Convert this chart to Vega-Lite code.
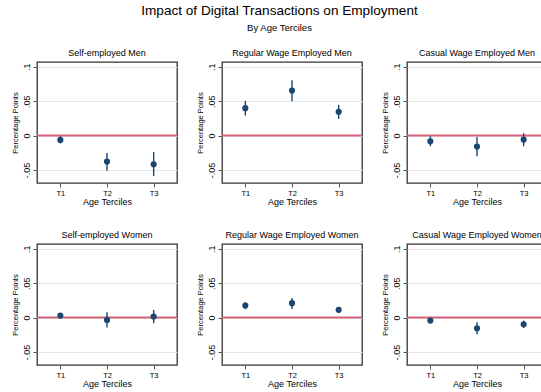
{
  "$schema": "https://vega.github.io/schema/vega-lite/v6.json",
  "background": "white",
  "padding": {"left": 10, "top": 4, "right": 0, "bottom": 0},
  "title": {
    "text": "Impact of Digital Transactions on Employment",
    "subtitle": "By Age Terciles",
    "font": "Liberation Sans",
    "subtitleFont": "Liberation Sans",
    "fontSize": 13.6,
    "fontWeight": "normal",
    "subtitleFontSize": 9.5,
    "subtitleColor": "#000",
    "color": "#000",
    "anchor": "middle",
    "subtitlePadding": 5,
    "offset": 16
  },
  "data": {
    "values": [
      {"panel": "Self-employed Men", "term": "T1", "est": -0.0063, "lo": -0.0115, "hi": -0.0010},
      {"panel": "Self-employed Men", "term": "T2", "est": -0.0379, "lo": -0.0510, "hi": -0.0252},
      {"panel": "Self-employed Men", "term": "T3", "est": -0.0417, "lo": -0.0590, "hi": -0.0240},
      {"panel": "Regular Wage Employed Men", "term": "T1", "est": 0.0398, "lo": 0.0290, "hi": 0.0505},
      {"panel": "Regular Wage Employed Men", "term": "T2", "est": 0.0655, "lo": 0.0500, "hi": 0.0806},
      {"panel": "Regular Wage Employed Men", "term": "T3", "est": 0.0345, "lo": 0.0243, "hi": 0.0447},
      {"panel": "Casual Wage Employed Men", "term": "T1", "est": -0.0083, "lo": -0.0155, "hi": -0.0010},
      {"panel": "Casual Wage Employed Men", "term": "T2", "est": -0.0160, "lo": -0.0300, "hi": -0.0020},
      {"panel": "Casual Wage Employed Men", "term": "T3", "est": -0.0058, "lo": -0.0155, "hi": 0.0034},
      {"panel": "Self-employed Women", "term": "T1", "est": 0.0029, "lo": -0.0005, "hi": 0.0063},
      {"panel": "Self-employed Women", "term": "T2", "est": -0.0034, "lo": -0.0146, "hi": 0.0078},
      {"panel": "Self-employed Women", "term": "T3", "est": 0.0015, "lo": -0.0083, "hi": 0.0110},
      {"panel": "Regular Wage Employed Women", "term": "T1", "est": 0.0175, "lo": 0.0121, "hi": 0.0223},
      {"panel": "Regular Wage Employed Women", "term": "T2", "est": 0.0209, "lo": 0.0126, "hi": 0.0286},
      {"panel": "Regular Wage Employed Women", "term": "T3", "est": 0.0112, "lo": 0.0073, "hi": 0.0150},
      {"panel": "Casual Wage Employed Women", "term": "T1", "est": -0.0044, "lo": -0.0078, "hi": -0.0010},
      {"panel": "Casual Wage Employed Women", "term": "T2", "est": -0.0155, "lo": -0.0243, "hi": -0.0068},
      {"panel": "Casual Wage Employed Women", "term": "T3", "est": -0.0097, "lo": -0.0150, "hi": -0.0044}
    ]
  },
  "facet": {
    "field": "panel",
    "type": "nominal",
    "sort": [
      "Self-employed Men", "Regular Wage Employed Men", "Casual Wage Employed Men",
      "Self-employed Women", "Regular Wage Employed Women", "Casual Wage Employed Women"
    ],
    "header": {
      "title": null,
      "labelFont": "Liberation Sans",
      "labelFontSize": 9,
      "labelColor": "#000",
      "labelPadding": 4
    }
  },
  "columns": 3,
  "spacing": {"row": 22, "column": 16},
  "resolve": {"axis": {"x": "independent", "y": "independent"}},
  "spec": {
    "width": 140,
    "height": 121,
    "encoding": {
      "x": {
        "field": "term",
        "type": "ordinal",
        "scale": {"type": "point", "padding": 0.5},
        "axis": {
          "title": "Age Terciles",
          "labelAngle": 0,
          "labelFontSize": 7.5,
          "titleFontSize": 9,
          "titleFontWeight": "normal",
          "tickSize": 4,
          "labelPadding": 2,
          "titlePadding": 1,
          "grid": false,
          "domain": false
        }
      }
    },
    "layer": [
      {
        "transform": [{"filter": "datum.term === 'T1'"}],
        "mark": {"type": "rule", "color": "#d8627a", "strokeWidth": 2},
        "encoding": {
          "x": null,
          "y": {"datum": 0, "type": "quantitative"}
        }
      },
      {
        "mark": {"type": "rule", "color": "#1a476f", "strokeWidth": 1.4},
        "encoding": {
          "y": {
            "field": "lo",
            "type": "quantitative",
            "scale": {"domain": [-0.069, 0.107], "nice": false, "zero": false},
            "axis": {
              "title": "Percentage Points",
              "values": [-0.05, 0, 0.05, 0.1],
              "labelExpr": "datum.value == 0.1 ? '.1' : datum.value == 0.05 ? '.05' : datum.value == 0 ? '0' : '-.05'",
              "labelAngle": -90,
              "labelAlign": "center",
              "labelBaseline": "bottom",
              "labelFontSize": 9,
              "titleFontSize": 7.5,
              "titleFontWeight": "normal",
              "tickSize": 4,
              "labelPadding": 2,
              "titlePadding": 3,
              "grid": true,
              "domain": false
            }
          },
          "y2": {"field": "hi"}
        }
      },
      {
        "mark": {"type": "point", "filled": true, "color": "#1a476f", "opacity": 1, "size": 38},
        "encoding": {
          "y": {"field": "est", "type": "quantitative"}
        }
      }
    ]
  },
  "config": {
    "font": "Liberation Sans",
    "view": {"stroke": "#333", "strokeWidth": 1.3},
    "axis": {
      "labelFont": "Liberation Sans",
      "titleFont": "Liberation Sans",
      "labelColor": "#000",
      "titleColor": "#000",
      "tickColor": "#555",
      "gridColor": "#e8e8e8",
      "gridWidth": 1
    }
  }
}
